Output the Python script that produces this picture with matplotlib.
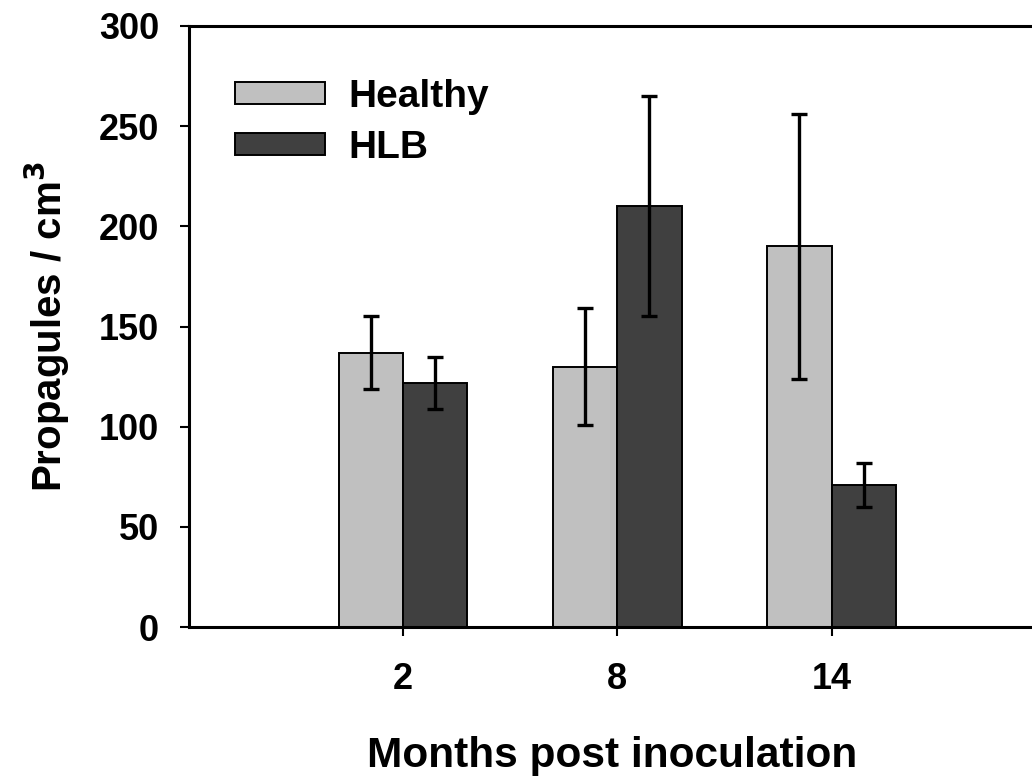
import numpy as np
import matplotlib
matplotlib.use("Agg")
import matplotlib.pyplot as plt

plt.rcParams['font.family'] = ['Liberation Sans', 'DejaVu Sans']
plt.rcParams['font.weight'] = 'bold'

# data
months = ['2', '8', '14']
healthy = [137, 130, 190]
healthy_err = [18, 29, 66]
hlb = [122, 210, 71]
hlb_err = [13, 55, 11]

x = np.arange(len(months))
w = 0.30

fig = plt.figure(figsize=(10.32, 7.76), dpi=100)
ax = fig.add_axes([0.183, 0.192, 0.82, 0.7745])

ekw = dict(elinewidth=2.4, capsize=6, capthick=2.4, ecolor='black')
ax.bar(x - w / 2, healthy, w, yerr=healthy_err, color='#c0c0c0',
       edgecolor='black', linewidth=1.4, label='Healthy', error_kw=ekw)
ax.bar(x + w / 2, hlb, w, yerr=hlb_err, color='#404040',
       edgecolor='black', linewidth=1.4, label='HLB', error_kw=ekw)

ax.set_xlim(-1.0, 2.95)
ax.set_ylim(0, 300)
ax.set_yticks(np.arange(0, 301, 50))
ax.set_xticks(x)
ax.set_xticklabels(months)

for s in ['left', 'bottom', 'top']:
    ax.spines[s].set_linewidth(2.2)
ax.spines['right'].set_visible(False)

ax.tick_params(axis='y', direction='out', length=6.5, width=1.5, labelsize=26, pad=15)
ax.tick_params(axis='x', direction='out', length=6.5, width=1.5, labelsize=26, pad=19)

ax.set_xlabel('Months post inoculation', fontsize=30.5, fontweight='bold', labelpad=28)
ax.set_ylabel('Propagules / cm$^\\mathbf{3}$', fontsize=29, fontweight='bold', labelpad=19)

leg = ax.legend(loc='upper left', bbox_to_anchor=(0.055, 0.912), frameon=False,
                fontsize=28, handlelength=2.3, handleheight=0.5,
                handletextpad=0.6, labelspacing=0.38, borderpad=0, borderaxespad=0)

fig.savefig('out.png', dpi=100)
